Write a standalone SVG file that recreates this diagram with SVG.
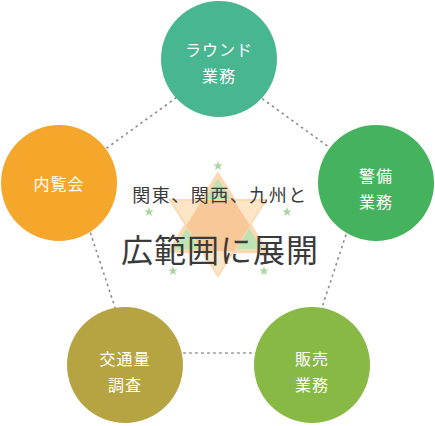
<svg xmlns="http://www.w3.org/2000/svg" width="435" height="426" viewBox="0 0 435 426">
<style>
.lbl{font-family:"Noto Sans CJK JP","Noto Sans",sans-serif;font-size:16px;fill:#ffffff;text-anchor:middle;letter-spacing:1px}
.mid{font-family:"Noto Sans CJK JP","Noto Sans",sans-serif;fill:#3a3a3a;text-anchor:middle}
.star{fill:#a9d69f}
.dash{fill:none;stroke:#8c8c8c;stroke-width:1.6;stroke-dasharray:2.5 3.5}
</style>
<defs>
<polygon id="s" points="0,-5 1.18,-1.62 4.76,-1.55 1.9,0.62 2.94,4.05 0,2 -2.94,4.05 -1.9,0.62 -4.76,-1.55 -1.18,-1.62"/>
</defs>
<g id="connectors">
<polygon class="dash" points="218.5,67 366,174 307,353 130,353 71,174"/>
</g>
<g id="emblem">
<polygon points="218,175 266,251 170,251" fill="#bfe2b3" stroke="#fbd9b2" stroke-width="4" stroke-linejoin="miter"/>
<polygon points="170,200 266,200 218,276" fill="#fde6c8" stroke="#fbd9b2" stroke-width="2"/>
<polygon points="202.2,200 233.8,200 249.9,225.5 233.8,251 202.2,251 186.1,225.5" fill="#f8c898"/>
<use href="#s" x="218" y="166" class="star"/>
<use href="#s" x="149" y="212" class="star"/>
<use href="#s" x="287" y="212" class="star"/>
<use href="#s" x="173" y="271" class="star"/>
<use href="#s" x="264" y="271" class="star"/>
</g>
<g id="center-text">
<text class="mid" x="220" y="202" font-size="18" letter-spacing="1.5">関東、関西、九州と</text>
<text class="mid" x="220" y="262" font-size="32" letter-spacing="1">広範囲に展開</text>
</g>
<g id="round">
<circle cx="219" cy="59" r="58" fill="#48b690"/>
<text class="lbl" x="219" y="56">ラウンド</text>
<text class="lbl" x="219" y="82">業務</text>
</g>
<g id="naiten">
<circle cx="59" cy="183" r="58" fill="#f5a72c"/>
<text class="lbl" x="59" y="190">内覧会</text>
</g>
<g id="keibi">
<circle cx="376" cy="183" r="58" fill="#45b35d"/>
<text class="lbl" x="376" y="182">警備</text>
<text class="lbl" x="376" y="208">業務</text>
</g>
<g id="traffic">
<circle cx="125" cy="365" r="58" fill="#b6a442"/>
<text class="lbl" x="125" y="365">交通量</text>
<text class="lbl" x="125" y="391">調査</text>
</g>
<g id="sales">
<circle cx="312" cy="365" r="58" fill="#89b945"/>
<text class="lbl" x="312" y="365">販売</text>
<text class="lbl" x="312" y="391">業務</text>
</g>
</svg>
